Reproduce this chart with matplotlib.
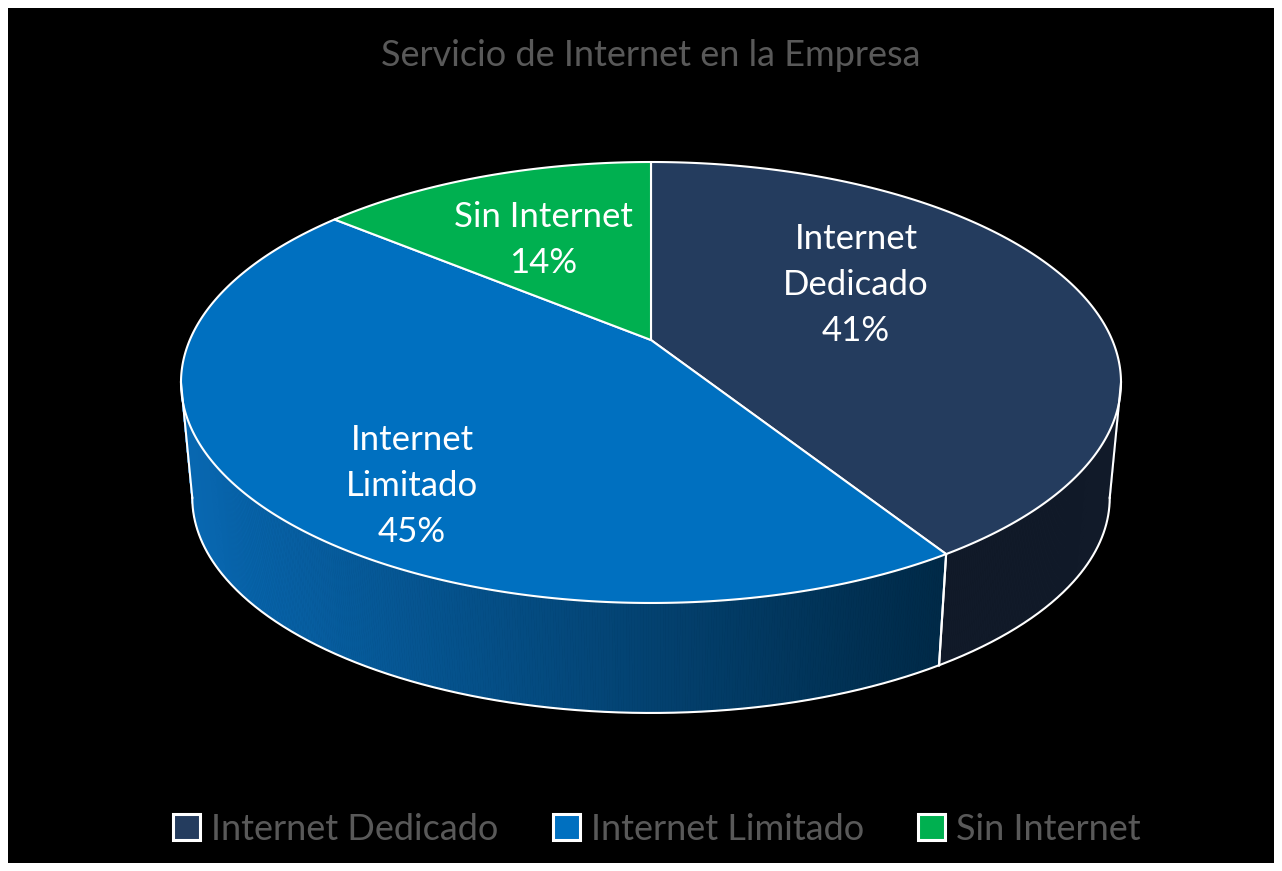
import matplotlib
matplotlib.use('Agg')
import matplotlib.pyplot as plt
from matplotlib.patches import Polygon, Rectangle, Patch
from matplotlib.colors import to_rgb
import numpy as np

# chart data
categories = ['Internet Dedicado', 'Internet Limitado', 'Sin Internet']
values = [41, 45, 14]
label_names = ['Internet\nDedicado', 'Internet\nLimitado', 'Sin Internet']
title = 'Servicio de Internet en la Empresa'

# styling
top_colors = ['#243C5E', '#0070C0', '#00B050']
side_left = ['#111A29', '#0867B0', '#00803F']
side_right = ['#111A29', '#002A48', '#005E2C']
label_pos = [(856, 285), (412, 486), (543, 240)]
font = ['Lato', 'DejaVu Sans']
gray = '#595959'

# projection of the tilted pie (pixel space)
CX, CY = 651, 340       # projected pie centre
A, B, K = 461.2, 212.3, 0.1927
DEPTH, SHRINK = 116.3, 0.976


def top_xy(theta):
    u, v = np.sin(theta), np.cos(theta)
    w = 1 + K * v
    return CX + A * u / w, CY - B * v / w


def bottom_xy(theta):
    x, y = top_xy(theta)
    return CX + SHRINK * (x - CX), CY + DEPTH + SHRINK * (y - CY)


def blend(c1, c2, t):
    a, b = np.array(to_rgb(c1)), np.array(to_rgb(c2))
    return tuple(a + (b - a) * t)


fig = plt.figure(figsize=(12.82, 8.71), dpi=100, facecolor='white')
ax = fig.add_axes([0, 0, 1, 1])
ax.set_xlim(0, 1282)
ax.set_ylim(871, 0)
ax.axis('off')
ax.add_patch(Rectangle((8, 8), 1266, 855, facecolor='black', edgecolor='none', zorder=0))

fracs = np.array(values) / sum(values)
bounds = np.concatenate([[0], np.cumsum(fracs)]) * 2 * np.pi
sil_r = np.arccos(-K)            # right silhouette angle
sil_l = 2 * np.pi - sil_r        # left silhouette angle

# side walls (only the front part is visible)
for i in range(len(values)):
    t0, t1 = max(bounds[i], sil_r), min(bounds[i + 1], sil_l)
    if t1 <= t0:
        continue
    ts = np.linspace(t0, t1, int(200 * (t1 - t0)) + 2)
    for a0, a1 in zip(ts[:-1], ts[1:]):
        p = [top_xy(a0), top_xy(a1), bottom_xy(a1), bottom_xy(a0)]
        xm = (p[0][0] + p[1][0]) / 2
        c = blend(side_left[i], side_right[i], np.clip((xm - 190) / 750, 0, 1))
        ax.add_patch(Polygon(p, closed=True, facecolor=c, edgecolor=c, lw=0.6, zorder=2))
    # vertical edges at slice boundaries inside visible range
    for b in (t0, t1):
        x0, y0 = top_xy(b)
        x1, y1 = bottom_xy(b)
        ax.plot([x0, x1], [y0, y1], color='white', lw=1.5, zorder=4)
    xs, ys = bottom_xy(ts)
    ax.plot(xs, ys, color='white', lw=1.5, zorder=4)

# top face
for i in range(len(values)):
    ts = np.linspace(bounds[i], bounds[i + 1], 300)
    xs, ys = top_xy(ts)
    pts = [(CX, CY)] + list(zip(xs, ys))
    ax.add_patch(Polygon(pts, closed=True, facecolor=top_colors[i], edgecolor='white',
                         lw=1.5, joinstyle='round', zorder=3))

# data labels
for name, v, (lx, ly) in zip(label_names, values, label_pos):
    ax.text(lx, ly, f'{name}\n{v}%', color='white', fontsize=25, family=font,
            ha='center', va='center', linespacing=1.55, zorder=5)

ax.text(651, 55, title, color=gray, fontsize=26, family=font,
        ha='center', va='center', zorder=5)

handles = [Patch(facecolor=c, edgecolor='white', linewidth=2.2) for c in top_colors]
leg = ax.legend(handles, categories, loc='center', bbox_to_anchor=(657 / 1282, 1 - 829 / 871),
                ncol=3, frameon=False, handlelength=0.75, handleheight=0.75,
                handletextpad=0.3, columnspacing=1.5, prop={'family': font, 'size': 26})
for t in leg.get_texts():
    t.set_color(gray)

fig.savefig('out.png', dpi=100, facecolor='white')
